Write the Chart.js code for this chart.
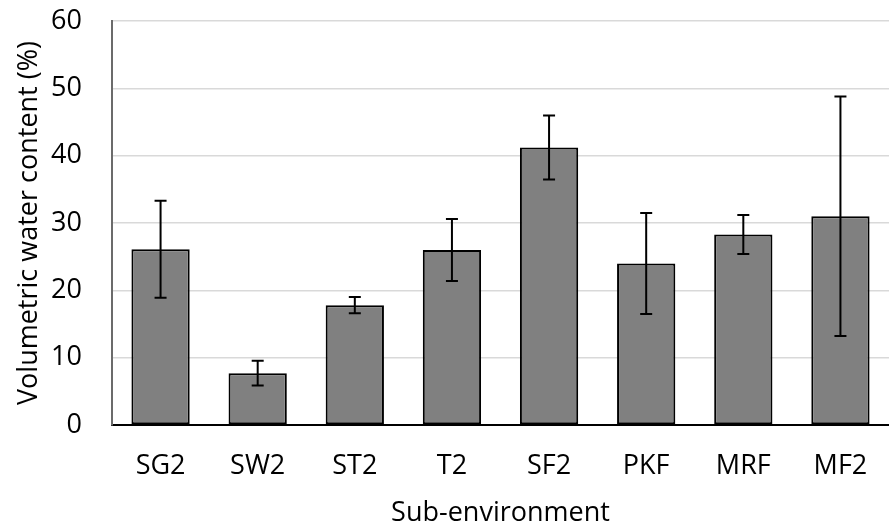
<!DOCTYPE html>
<html>
<head>
<meta charset="utf-8">
<script src="https://cdn.jsdelivr.net/npm/chart.js@4/dist/chart.umd.min.js"></script>
<style>
  html, body { margin: 0; padding: 0; background: #ffffff; }
  #wrap { width: 889px; height: 530px; position: relative; }
</style>
</head>
<body>
<div id="wrap"><canvas id="c" width="889" height="530"></canvas></div>
<script>
const categories = ['SG2', 'SW2', 'ST2', 'T2', 'SF2', 'PKF', 'MRF', 'MF2'];
const waterContent = [26.1, 7.7, 17.8, 26.0, 41.2, 24.0, 28.3, 31.0];
const stdDev = [7.2, 1.85, 1.2, 4.6, 4.75, 7.5, 2.9, 17.8];
const yTicks = [0, 10, 20, 30, 40, 50, 60];

const FONT = "'Open Sans', 'Noto Sans', sans-serif";

const errorBars = {
  id: 'errorBars',
  afterDatasetsDraw(chart) {
    const ctx = chart.ctx;
    const xs = chart.scales.x, ys = chart.scales.y;
    ctx.save();
    ctx.strokeStyle = '#000000';
    ctx.lineWidth = 2;
    waterContent.forEach((v, i) => {
      const x = xs.getPixelForValue(i);
      const yHi = ys.getPixelForValue(v + stdDev[i]);
      const yLo = ys.getPixelForValue(v - stdDev[i]);
      const cap = 6;
      ctx.beginPath();
      ctx.moveTo(x, yHi); ctx.lineTo(x, yLo);
      ctx.moveTo(x - cap, yHi); ctx.lineTo(x + cap, yHi);
      ctx.moveTo(x - cap, yLo); ctx.lineTo(x + cap, yLo);
      ctx.stroke();
    });
    ctx.restore();
  }
};

new Chart(document.getElementById('c'), {
  type: 'bar',
  data: {
    labels: categories,
    datasets: [{
      data: waterContent,
      backgroundColor: '#808080',
      borderColor: '#000000',
      borderWidth: 2,
      borderSkipped: false,
      categoryPercentage: 1.0,
      barPercentage: 0.6
    }]
  },
  options: {
    responsive: false,
    animation: false,
    devicePixelRatio: 1,
    layout: { padding: { top: 21, right: 0, bottom: 0, left: 0 } },
    plugins: { legend: { display: false }, tooltip: { enabled: false } },
    scales: {
      x: {
        grid: { display: false, drawTicks: false },
        border: { display: true, color: '#000000', width: 2 },
        ticks: { color: '#000000', font: { family: FONT, size: 27 }, padding: 25, maxRotation: 0 },
        title: { display: true, text: 'Sub-environment', color: '#000000', font: { family: FONT, size: 27 }, padding: { top: 0, bottom: 0 } },
        afterFit(scale) { scale.height = 105; scale.paddingLeft = 0; scale.paddingRight = 0; }
      },
      y: {
        min: 0, max: 60,
        afterBuildTicks(scale) { scale.ticks = yTicks.map(v => ({ value: v })); },
        grid: { color: '#d9d9d9', lineWidth: 1.5, drawTicks: false },
        border: { display: true, color: '#6b6b6b', width: 2 },
        ticks: { color: '#000000', font: { family: FONT, size: 27 }, padding: 30 },
        title: { display: true, text: 'Volumetric water content (%)', color: '#000000', font: { family: FONT, size: 27 }, padding: { top: 13, bottom: 0 } },
        afterFit(scale) { scale.width = 112; scale.paddingTop = 0; scale.paddingBottom = 0; }
      }
    }
  },
  plugins: [errorBars]
});
</script>
</body>
</html>
